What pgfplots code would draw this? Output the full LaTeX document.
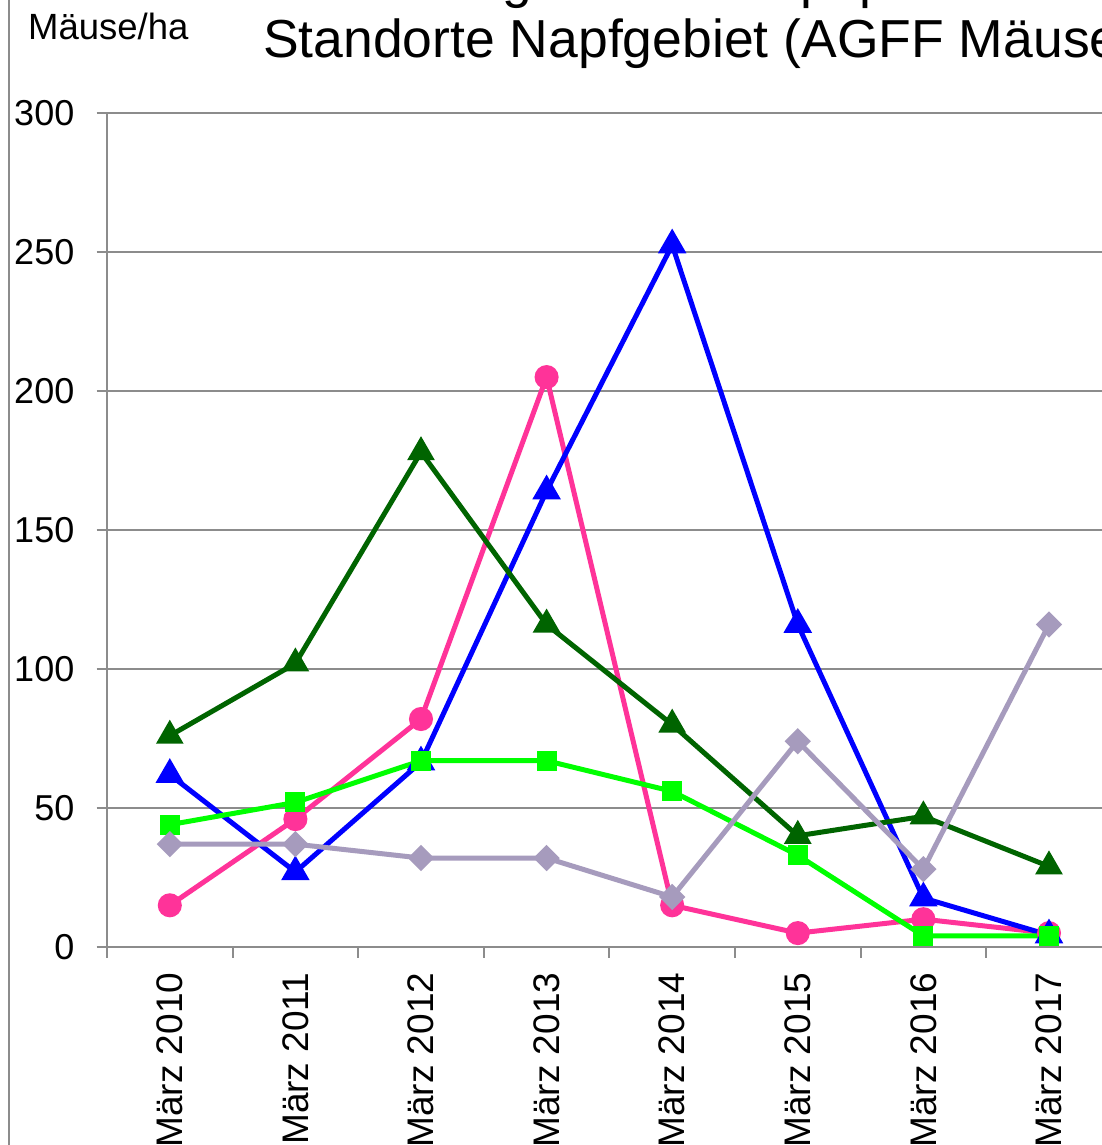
\documentclass[border=0pt]{standalone}
\usepackage{fontspec}
\setmainfont{Liberation Sans}
\usepackage{pgfplots}
\pgfplotsset{compat=1.18}
\definecolor{axgray}{RGB}{140,140,140}
\definecolor{cpink}{RGB}{255,51,153}
\definecolor{cblue}{RGB}{0,0,255}
\definecolor{cdgreen}{RGB}{0,100,0}
\definecolor{clgreen}{RGB}{0,255,0}
\definecolor{clav}{RGB}{166,155,189}
\begin{document}
\begin{tikzpicture}
\useasboundingbox (0,0) rectangle (1102pt,1145pt);
\clip (0,0) rectangle (1102pt,1145pt);
\fill[white] (0,0) rectangle (1102pt,1145pt);
\draw[axgray, line width=2.5pt] (9pt,0) -- (9pt,1145pt);
\node[anchor=base west, inner sep=0pt, font=\fontsize{53.5}{60}\selectfont] at (247pt,1147pt) {Entwicklung der Mäusepopulationen an verschiedenen};
\node[anchor=base west, inner sep=0pt, font=\fontsize{53.5}{60}\selectfont] at (263pt,1087pt) {Standorte Napfgebiet (AGFF Mäusemonitoring)};
\node[anchor=base west, inner sep=0pt, font=\fontsize{36.5}{42}\selectfont] at (28pt,1105pt) {Mäuse/ha};
\begin{axis}[
  at={(107pt,198pt)}, anchor=south west,
  scale only axis, width=1004.8pt, height=834pt,
  xmin=-0.5, xmax=7.5, ymin=0, ymax=300,
  axis x line=bottom, axis y line=left,
  axis line style={-, axgray, line width=2pt},
  ytick={0,50,...,300},
  ymajorgrids, grid style={axgray, line width=2pt},
  tick align=outside, major tick length=10.5pt,
  tick style={axgray, line width=2pt},
  xtick={-0.5,0.5,...,7.5},
  xticklabels={\mbox{},\mbox{},\mbox{},\mbox{},\mbox{},\mbox{},\mbox{},\mbox{},\mbox{}},
  extra x ticks={0,1,2,3,4,5,6,7},
  extra x tick labels={März 2010,März 2011,März 2012,März 2013,März 2014,März 2015,März 2016,März 2017},
  extra x tick style={tick style={draw=none}},
  xticklabel shift=15pt,
  yticklabel shift=22pt,
  xticklabel style={rotate=90, anchor=east, inner sep=0pt, font=\fontsize{37}{42}\selectfont},
  yticklabel style={anchor=east, inner sep=0pt, font=\fontsize{36}{42}\selectfont},
  /pgf/number format/assume math mode=true,
  every axis plot/.append style={line width=5pt},
  every mark/.append style={line width=0.5pt, solid},
]
\addplot[cpink, mark=*, mark size=9.5pt, mark options={fill=cpink}] coordinates {(0,15) (1,46) (2,82) (3,205) (4,15) (5,5) (6,10) (7,5)};
\addplot[cblue, mark=triangle*, mark size=11.5pt, mark options={fill=cblue}] coordinates {(0,62) (1,27) (2,66.5) (3,164) (4,252.5) (5,116) (6,17.6) (7,4.3)};
\addplot[cdgreen, mark=triangle*, mark size=11pt, mark options={fill=cdgreen}] coordinates {(0,76) (1,102) (2,178) (3,116) (4,80) (5,40) (6,47) (7,29)};
\addplot[clgreen, mark=square*, mark size=7.5pt, mark options={fill=clgreen}] coordinates {(0,44) (1,52) (2,67) (3,67) (4,56) (5,33) (6,4) (7,4)};
\addplot[clav, mark=square*, mark size=6.8pt, mark options={fill=clav, rotate=45}] coordinates {(0,37) (1,37) (2,32) (3,32) (4,18) (5,74) (6,28) (7,116)};
\end{axis}
\end{tikzpicture}
\end{document}
